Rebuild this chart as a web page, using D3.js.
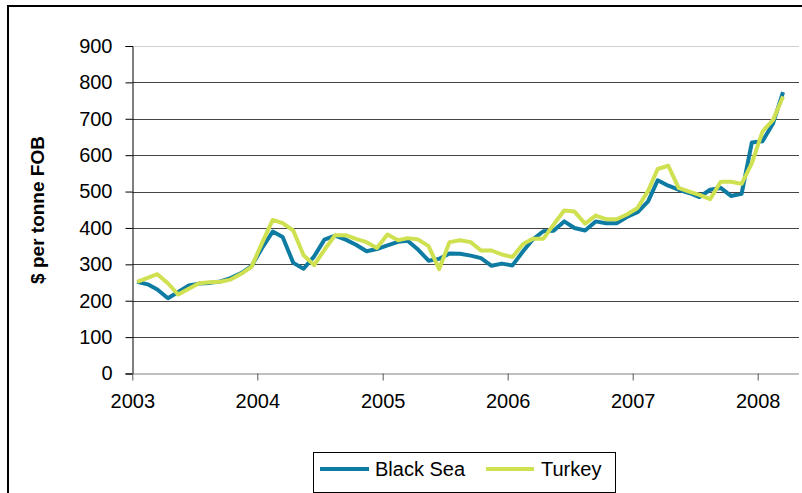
<!DOCTYPE html>
<html>
<head>
<meta charset="utf-8">
<script src="https://cdn.jsdelivr.net/npm/d3@7"></script>
<style>
  html, body { margin: 0; padding: 0; background: #fff; }
  svg { display: block; font-family: "Liberation Sans", Arial, sans-serif; }
</style>
</head>
<body>
<svg id="chart" width="802" height="493"></svg>
<script>
// ---- Data (monthly, Jan 2003 – Mar 2008) ----
const startMonth = new Date(2003, 0, 15);
const endMonth = new Date(2008, 2, 16);
const months = d3.timeMonth.range(new Date(2003, 0, 1), new Date(2008, 3, 1)).map(d => new Date(d.getFullYear(), d.getMonth(), 15));

const blackSea = [
  252, 245, 231, 207, 224, 242, 247, 249, 253, 262, 276, 295,
  345, 390, 375, 304, 288, 322, 368, 379, 368, 354, 336, 342,
  352, 362, 365, 340, 310, 315, 330, 329, 324, 317, 296, 302,
  297, 336, 368, 391, 392, 418, 400, 393, 418, 413, 413, 430,
  443, 473, 531, 516, 505, 496, 485, 505, 510, 488, 494, 635,
  638, 688, 773
];
const turkey = [
  252, 263, 273, 248, 217, 233, 248, 251, 252, 258, 274, 293,
  359, 422, 413, 393, 325, 298, 340, 380, 380, 370, 361, 345,
  382, 366, 372, 368, 350, 287, 361, 366, 361, 338, 338, 327,
  320, 356, 370, 370, 409, 448, 445, 412, 434, 424, 424, 437,
  455, 502, 562, 571, 510, 500, 491, 479, 527, 527, 521, 578,
  665, 697, 761
];
const seriesNames = ["Black Sea", "Turkey"];
const seriesColors = ["#0e7ba3", "#cfe050"];
const yTicks = [0, 100, 200, 300, 400, 500, 600, 700, 800, 900];
const xTickYears = [2003, 2004, 2005, 2006, 2007, 2008];
const yTitle = "$ per tonne FOB";

// ---- Layout ----
const svg = d3.select("#chart");
const plotLeft = 132.5, plotRight = 799, plotTop = 46, plotBottom = 373.5;

const x = d3.scaleTime()
  .domain([new Date(2003, 0, 1), new Date(2008, 0, 1)])
  .range([132.3, 757.7]);
const y = d3.scaleLinear().domain([0, 900]).range([plotBottom, plotTop]);

// frame
svg.append("line").attr("x1", 8).attr("x2", 8).attr("y1", 5).attr("y2", 493)
  .attr("stroke", "#000").attr("stroke-width", 2);
svg.append("line").attr("x1", 7).attr("x2", 802).attr("y1", 6).attr("y2", 6)
  .attr("stroke", "#000").attr("stroke-width", 2);

// gridlines
svg.append("g").selectAll("line").data(yTicks.filter(d => d > 0)).join("line")
  .attr("x1", plotLeft).attr("x2", plotRight)
  .attr("y1", d => Math.round(y(d)) + 0.5).attr("y2", d => Math.round(y(d)) + 0.5)
  .attr("stroke", d => d === 900 ? "#d0d0d0" : "#444").attr("stroke-width", 1);

// y axis
const yAxis = d3.axisLeft(y).tickValues(yTicks).tickSize(7).tickPadding(13).tickFormat(d3.format("d"));
const gy = svg.append("g").attr("transform", `translate(${plotLeft},0)`).call(yAxis);
gy.select(".domain").attr("stroke", "#000");
gy.selectAll(".tick line").attr("stroke", "#000");
gy.selectAll(".tick text").attr("font-size", 20).attr("fill", "#000")
  .attr("font-family", "Liberation Sans, Arial, sans-serif");

// x axis
const xAxis = d3.axisBottom(x)
  .tickValues(xTickYears.map(yr => new Date(yr, 0, 1)))
  .tickFormat(d3.timeFormat("%Y")).tickSize(7).tickPadding(13).tickSizeOuter(0);
const gx = svg.append("g").attr("transform", `translate(0,${plotBottom})`).call(xAxis);
gx.select(".domain").attr("stroke", "#808080").attr("d", `M${plotLeft},0.5H${plotRight}`);
gx.selectAll(".tick line").attr("stroke", "#555");
gx.selectAll(".tick text").attr("font-size", 20).attr("fill", "#000")
  .attr("font-family", "Liberation Sans, Arial, sans-serif");

// y title
svg.append("text")
  .attr("transform", `translate(44,210) rotate(-90)`)
  .attr("text-anchor", "middle")
  .attr("font-size", 19).attr("font-weight", "bold")
  .text(yTitle);

// lines
const line = d3.line().x((d, i) => x(months[i])).y(d => y(d));
[blackSea, turkey].forEach((s, k) => {
  svg.append("path").datum(s)
    .attr("fill", "none").attr("stroke", seriesColors[k])
    .attr("stroke-width", 4).attr("stroke-linejoin", "round")
    .attr("d", line);
});

// legend
const lg = svg.append("g");
lg.append("rect").attr("x", 313.5).attr("y", 452.5).attr("width", 302).attr("height", 40)
  .attr("fill", "#fff").attr("stroke", "#000").attr("stroke-width", 1);
const legendItems = [
  { x1: 320, x2: 369, tx: 375 },
  { x1: 486, x2: 534, tx: 541 }
];
legendItems.forEach((it, k) => {
  lg.append("line").attr("x1", it.x1).attr("x2", it.x2).attr("y1", 469).attr("y2", 469)
    .attr("stroke", seriesColors[k]).attr("stroke-width", 4);
  lg.append("text").attr("x", it.tx).attr("y", 476).attr("font-size", 20)
    .text(seriesNames[k]);
});
</script>
</body>
</html>
